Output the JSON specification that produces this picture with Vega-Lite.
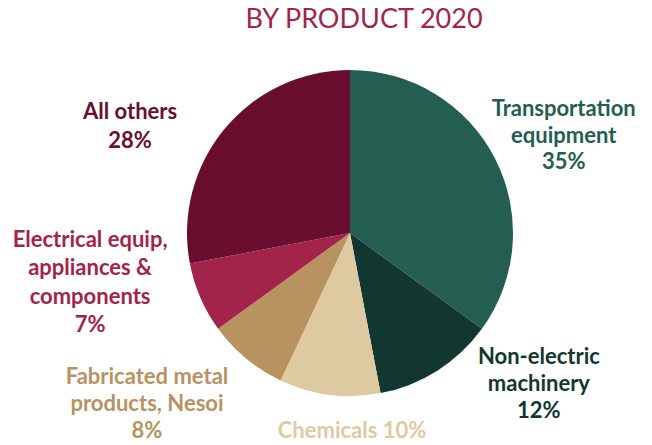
{
  "$schema": "https://vega.github.io/schema/vega-lite/v6.json",
  "width": 326,
  "height": 326,
  "autosize": "none",
  "padding": {"left": 187, "top": 70, "right": 139, "bottom": 49},
  "background": "white",
  "title": {"text": "BY PRODUCT 2020", "font": "Lato", "fontSize": 27, "fontWeight": "normal", "color": "#A2244B", "dx": 14, "offset": -61, "frame": "group", "baseline": "alphabetic"},
  "data": {"values": [
    {"idx": 1, "cat": "Transportation equipment", "pct": 35, "label": "Transportation\nequipment\n35%"},
    {"idx": 2, "cat": "Non-electric machinery", "pct": 12, "label": "Non-electric\nmachinery\n12%"},
    {"idx": 3, "cat": "Chemicals", "pct": 10, "label": "Chemicals 10%"},
    {"idx": 4, "cat": "Fabricated metal products, Nesoi", "pct": 8, "label": "Fabricated metal\nproducts, Nesoi\n8%"},
    {"idx": 5, "cat": "Electrical equip, appliances & components", "pct": 7, "label": "Electrical equip,\nappliances &\ncomponents\n7%"},
    {"idx": 6, "cat": "All others", "pct": 28, "label": "All others\n28%"}
  ]},
  "encoding": {
    "theta": {"field": "pct", "type": "quantitative", "stack": true},
    "order": {"field": "idx", "type": "quantitative"},
    "color": {"field": "cat", "type": "nominal", "legend": null,
      "scale": {"domain": ["Transportation equipment", "Non-electric machinery", "Chemicals", "Fabricated metal products, Nesoi", "Electrical equip, appliances & components", "All others"],
                "range": ["#245E51", "#123630", "#DECAA0", "#B8925F", "#A2244B", "#6A0E30"]}}
  },
  "layer": [
    {"mark": {"type": "arc", "stroke": null}},
    {"mark": {"type": "text", "radius": 247, "thetaOffset": -0.054, "font": "Lato", "fontWeight": "bold", "fontSize": 22, "lineBreak": "\n", "lineHeight": 26.5, "align": "center", "baseline": "middle"},
     "encoding": {"text": {"condition": {"test": "datum.idx === 1", "field": "label"}, "value": ""}}},
    {"mark": {"type": "text", "radius": 226, "thetaOffset": -0.424, "font": "Lato", "fontWeight": "bold", "fontSize": 22, "lineBreak": "\n", "lineHeight": 27, "align": "center", "baseline": "middle"},
     "encoding": {"text": {"condition": {"test": "datum.idx === 2", "field": "label"}, "value": ""}}},
    {"mark": {"type": "text", "radius": 198, "thetaOffset": -0.136, "font": "Lato", "fontWeight": "bold", "fontSize": 22, "lineBreak": "\n", "lineHeight": 27, "align": "center", "baseline": "middle"},
     "encoding": {"text": {"condition": {"test": "datum.idx === 3", "field": "label"}, "value": ""}}},
    {"mark": {"type": "text", "radius": 249, "thetaOffset": 0.262, "font": "Lato", "fontWeight": "bold", "fontSize": 22, "lineBreak": "\n", "lineHeight": 27, "align": "center", "baseline": "middle"},
     "encoding": {"text": {"condition": {"test": "datum.idx === 4", "field": "label"}, "value": ""}}},
    {"mark": {"type": "text", "radius": 260, "thetaOffset": 0.382, "font": "Lato", "fontWeight": "bold", "fontSize": 22, "lineBreak": "\n", "lineHeight": 28.5, "align": "center", "baseline": "middle"},
     "encoding": {"text": {"condition": {"test": "datum.idx === 5", "field": "label"}, "value": ""}}},
    {"mark": {"type": "text", "radius": 251, "thetaOffset": -0.188, "font": "Lato", "fontWeight": "bold", "fontSize": 22, "lineBreak": "\n", "lineHeight": 29, "align": "center", "baseline": "middle"},
     "encoding": {"text": {"condition": {"test": "datum.idx === 6", "field": "label"}, "value": ""}}}
  ],
  "config": {"view": {"stroke": null}}
}
